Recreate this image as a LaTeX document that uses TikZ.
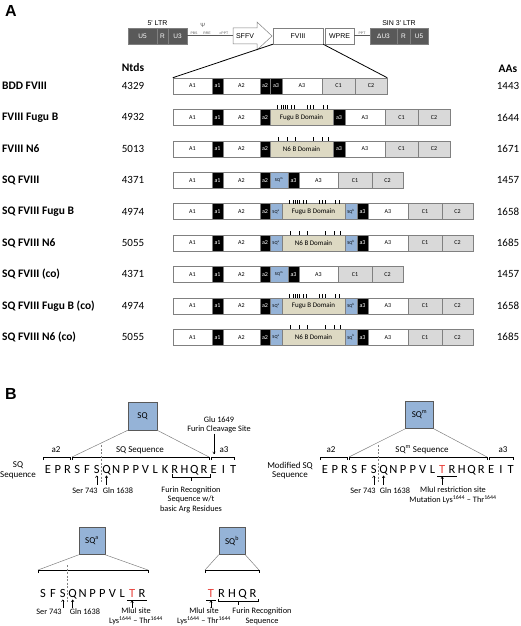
\documentclass[tikz,border=0pt]{standalone}
\usepackage{fontspec}
\setmainfont{Carlito}
\newfontfamily\arialfont{Liberation Sans}
\usetikzlibrary{arrows.meta}

\definecolor{ltrgray}{HTML}{595959}
\definecolor{sqblue}{HTML}{95B3D7}
\definecolor{fugutan}{HTML}{DDD9C3}
\definecolor{cgray}{HTML}{D9D9D9}
\definecolor{edgegray}{HTML}{808080}
\definecolor{mutred}{HTML}{E8403A}

% one construct row: id, y, name, Ntds, AAs, domains after a2
\newcommand{\fviiirow}[6]{%
  \node[rowlab] (lab#1) at (2,#2) {#3};
  \node[num] (nt#1) at (133,#2) {#4};
  \node[num] (aas#1) at (508,#2) {#5};
  \foreach \xa/\xb/\st/\txt [count=\segno] in {173/212/wd/A1,212/223/bk/a1,223/260/wd/A2,260/270/bk/a2,#6}
    \node[\st, minimum width={(\xb-\xa)*1pt}] (r#1-\segno) at ({(\xa+\xb)/2},#2) {\txt};
}
\newcommand{\fuguticks}[2]{\foreach \d in {7,11,13,15,17,21,24,37,40,43,53,57} \draw[tick] ({#1+\d},{#2-8}) -- ++(0,-4);}
\newcommand{\nsixticks}[2]{\foreach \d in {8,17,25,43,52,58} \draw[tick] ({#1+\d},{#2-8}) -- ++(0,-4);}
\newcommand{\topbrk}[3]{\draw[brk] (#1,#3+3) |- (#2,#3) -- (#2,#3+3);}

\begin{document}
\begin{tikzpicture}[x=1pt, y=-1pt,
  segbox/.style={draw=edgegray, line width=0.5pt, inner sep=0pt, minimum height=16pt, font=\fontsize{6}{6}\selectfont},
  wd/.style={segbox, fill=white},
  bk/.style={segbox, fill=black, text=white},
  gy/.style={segbox, fill=cgray},
  fb/.style={segbox, fill=fugutan, font=\fontsize{7}{7}\selectfont},
  sq/.style={segbox, fill=sqblue, font=\fontsize{4.5}{4.5}\selectfont},
  rowlab/.style={anchor=west, inner sep=0pt, font=\fontsize{11.5}{12}\selectfont\bfseries},
  num/.style={inner sep=0pt, font=\fontsize{11}{12}\selectfont},
  panel/.style={inner sep=0pt, font=\arialfont\bfseries\fontsize{16}{16}\selectfont},
  vbox/.style={draw=edgegray, line width=0.5pt, minimum height=16pt, inner sep=0pt, font=\arialfont\fontsize{7}{7}\selectfont},
  ltr/.style={vbox, fill=ltrgray, text=white, font=\arialfont\fontsize{6.5}{6.5}\selectfont},
  vtext/.style={inner sep=0pt, font=\arialfont\fontsize{7}{7}\selectfont},
  vtag/.style={inner sep=0pt, font=\arialfont\fontsize{3.5}{3.5}\selectfont, text=gray!70!black},
  vline/.style={ltrgray, line width=1pt},
  tick/.style={line width=0.4pt},
  resid/.style={anchor=base, inner sep=0pt, font=\fontsize{12.5}{12.5}\selectfont},
  lbl/.style={inner sep=0pt, align=center, font=\fontsize{8.3}{9.5}\selectfont},
  side/.style={inner sep=0pt, align=center, font=\fontsize{9}{9.5}\selectfont},
  hdr/.style={inner sep=0pt, font=\fontsize{9}{9}\selectfont},
  sqsq/.style={draw=gray!70!black, fill=sqblue, line width=0.6pt, inner sep=0pt, font=\fontsize{9}{9}\selectfont},
  brk/.style={line width=0.8pt},
  fan/.style={gray, line width=0.5pt},
  tipup/.style={{To[length=2.5pt,width=3pt]}-, line width=0.5pt},
  tipdown/.style={-{To[length=2.5pt,width=3pt]}, line width=0.5pt},
  cutline/.style={gray, dash pattern=on 2pt off 1.5pt, line width=0.6pt}
]
\useasboundingbox (0,0) rectangle (520,626);

% ---- A: vector and constructs
\node[panel] (pA) at (11,11) {A};
\node[ltr, minimum width=29pt] (u5a) at (142.5,36) {U5};
\node[ltr, minimum width=11pt] (ra) at (162.5,36) {R};
\node[ltr, minimum width=19pt] (u3a) at (177.5,36) {U3};
\node[vtext] (ltr5) at (157.5,23.5) {5' LTR};
\node[vtag, font=\arialfont\fontsize{6}{6}\selectfont] (psi) at (203,25) {Ψ};
\node[vtag] (pbs) at (194,33) {PBS};
\node[vtag] (rre) at (207,33) {RRE};
\node[vtag] (cppt) at (224,33) {cPPT};
\draw[draw=edgegray, fill=white, line width=0.5pt] (233,28) -- (257,28) -- (257,22) -- (272,36) -- (257,50) -- (257,44) -- (233,44) -- cycle;
\coordinate (sffvL) at (233,36);
\node[vtext] (sffv) at (245,36) {SFFV};
\node[vbox, fill=white, minimum width=50pt] (fviii) at (298,36) {FVIII};
\node[vbox, fill=white, minimum width=29pt] (wpre) at (339.5,36) {WPRE};
\node[vtag] (ppt) at (362,33) {PPT};
\node[ltr, minimum width=27pt] (du3) at (383.5,36) {ΔU3};
\node[ltr, minimum width=13pt] (rb) at (403.5,36) {R};
\node[ltr, minimum width=18pt] (u5b) at (419,36) {U5};
\node[vtext] (ltr3) at (399,23.5) {SIN 3' LTR};
\draw[vline] (u3a.east) -- (sffvL);
\draw[vline] (wpre.east) -- (du3.west);

\node[rowlab, anchor=center] (ntds) at (133,68) {Ntds};
\node[rowlab, anchor=center] (aahd) at (508,69) {AAs};

\fviiirow{1}{86}{BDD FVIII}{4329}{1443}{270/282/bk/a3,282/322/wd/A3,322/355/gy/C1,355/387/gy/C2}
\fviiirow{2}{117.4}{FVIII Fugu B}{4932}{1644}{270/333/fb/Fugu B Domain,333/345/bk/a3,345/385/wd/A3,385/418/gy/C1,418/450/gy/C2}
\fviiirow{3}{148.8}{FVIII N6}{5013}{1671}{270/333/fb/N6 B Domain,333/345/bk/a3,345/385/wd/A3,385/418/gy/C1,418/450/gy/C2}
\fviiirow{4}{180.2}{SQ FVIII}{4371}{1457}{270/288/sq/SQ\textsuperscript{m},288/299/bk/a3,299/338/wd/A3,338/372/gy/C1,372/403/gy/C2}
\fviiirow{5}{211.6}{SQ FVIII Fugu B}{4974}{1658}{270/282/sq/SQ\textsuperscript{a},282/345/fb/Fugu B Domain,345/357/sq/SQ\textsuperscript{b},357/368/bk/a3,368/408/wd/A3,408/442/gy/C1,442/473/gy/C2}
\fviiirow{6}{243}{SQ FVIII N6}{5055}{1685}{270/282/sq/SQ\textsuperscript{a},282/345/fb/N6 B Domain,345/357/sq/SQ\textsuperscript{b},357/368/bk/a3,368/408/wd/A3,408/442/gy/C1,442/473/gy/C2}
\fviiirow{7}{274.4}{SQ FVIII (co)}{4371}{1457}{270/288/sq/SQ\textsuperscript{m},288/299/bk/a3,299/338/wd/A3,338/372/gy/C1,372/403/gy/C2}
\fviiirow{8}{305.8}{SQ FVIII Fugu B (co)}{4974}{1658}{270/282/sq/SQ\textsuperscript{a},282/345/fb/Fugu B Domain,345/357/sq/SQ\textsuperscript{b},357/368/bk/a3,368/408/wd/A3,408/442/gy/C1,442/473/gy/C2}
\fviiirow{9}{337.2}{SQ FVIII N6 (co)}{5055}{1685}{270/282/sq/SQ\textsuperscript{a},282/345/fb/N6 B Domain,345/357/sq/SQ\textsuperscript{b},357/368/bk/a3,368/408/wd/A3,408/442/gy/C1,442/473/gy/C2}
\fuguticks{270}{117.4}
\fuguticks{282}{211.6}
\fuguticks{282}{305.8}
\nsixticks{270}{148.8}
\nsixticks{282}{243}
\nsixticks{282}{337.2}
\draw[line width=0.8pt] (fviii.south west) -- (r1-1.north west);
\draw[line width=0.8pt] (fviii.south east) -- (r1-8.north east);

% ---- B: SQ linker
\node[panel] (pB) at (11,394) {B};
\node[sqsq, minimum width=29pt, minimum height=28pt] (sqbox) at (142.5,416) {SQ};
\coordinate (sqL) at (72,457);
\coordinate (sqR) at (209,457);
\draw[fan] (sqbox.south west) -- (sqL);
\draw[fan] (sqbox.south east) -- (sqR);
\node[lbl] (glu) at (219,425) {Glu 1649\\Furin Cleavage Site};
\coordinate (cleave) at (214,454);
\draw[tipdown] (glu.south -| cleave) -- (cleave);
\node[hdr] (a2t) at (56,450) {a2};
\node[hdr] (sqt) at (140,450) {SQ Sequence};
\node[hdr] (a3t) at (224,450) {a3};
\topbrk{43}{70}{457}
\topbrk{72}{209}{457}
\topbrk{211}{234}{457}
\node[side] (sqside) at (18,470.5) {SQ\\Sequence};
\foreach \c [count=\n] in {E,P,R,S,F,S,Q,N,P,P,V,L,K,R,H,Q,R,E,I,T}
  \node[resid] (s\n) at ({48+(\n-1)*9.75},473) {\c};
\draw[cutline] (101.6,445) -- (101.6,482);
\draw[tipup] ([yshift=-2.5pt]s6.base) -- ++(0,9);
\draw[tipup] ([yshift=-2.5pt]s7.base) -- ++(0,9);
\node[lbl] (ser1) at (85,491) {Ser 743};
\node[lbl] (gln1) at (118,491) {Gln 1638};
\draw[brk] (172,474) |- (210,477) -- (210,474);
\draw[brk] (191,477) -- (191,481);
\node[lbl] (furin1) at (191,499.5) {Furin Recognition\\Sequence w/t\\basic Arg Residues};

% modified SQ
\node[sqsq, minimum width=28pt, minimum height=27pt] (sqmbox) at (419.5,415) {SQ\textsuperscript{m}};
\coordinate (smL) at (349,457);
\coordinate (smR) at (487,457);
\draw[fan] (sqmbox.south west) -- (smL);
\draw[fan] (sqmbox.south east) -- (smR);
\node[hdr] (a2m) at (331,450) {a2};
\node[hdr] (sqmt) at (422,450) {SQ\textsuperscript{m} Sequence};
\node[hdr] (a3m) at (503,450) {a3};
\topbrk{320}{347}{457}
\topbrk{349}{487}{457}
\topbrk{489}{513}{457}
\node[side] (mside) at (290,470.5) {Modified SQ\\Sequence};
\foreach \c [count=\n] in {E,P,R,S,F,S,Q,N,P,P,V,L,\textcolor{mutred}{T},R,H,Q,R,E,I,T}
  \node[resid] (m\n) at ({325+(\n-1)*9.77},473) {\c};
\draw[cutline] (378.7,445) -- (378.7,482);
\draw[tipup] ([yshift=-2.5pt]m6.base) -- ++(0,9);
\draw[tipup] ([yshift=-2.5pt]m7.base) -- ++(0,9);
\draw[brk] (437,476) -- (457,476);
\draw[tipup] ([yshift=-3.5pt]m13.base) -- ++(0,8);
\node[lbl] (ser2) at (363,491) {Ser 743};
\node[lbl] (gln2) at (395,491) {Gln 1638};
\node[lbl] (mlu1) at (453,495.5) {MluI restriction site\\Mutation Lys\textsuperscript{1644} – Thr\textsuperscript{1644}};

% SQa
\node[sqsq, minimum width=26pt, minimum height=27pt] (sqabox) at (92,541) {SQ\textsuperscript{a}};
\coordinate (saL) at (38,570);
\coordinate (saR) at (148,570);
\draw[fan] (sqabox.south west) -- (saL);
\draw[fan] (sqabox.south east) -- (saR);
\topbrk{38}{148}{570}
\foreach \c [count=\n] in {S,F,S,Q,N,P,P,V,L,\textcolor{mutred}{T},R}
  \node[resid] (a\n) at ({43+(\n-1)*9.9},597) {\c};
\draw[cutline] (67.7,565) -- (67.7,602);
\draw[tipup] ([yshift=-2.5pt]a3.base) -- ++(0,8);
\draw[tipup] ([yshift=-2.5pt]a4.base) -- ++(0,8);
\draw[brk] (127,600) -- (147,600);
\draw[tipup] ([yshift=-3.5pt]a10.base) -- ++(0,7);
\node[lbl] (ser3) at (49,611.5) {Ser 743};
\node[lbl] (gln3) at (85,611.5) {Gln 1638};
\node[lbl] (mlu2) at (136,616.5) {MluI site\\Lys\textsuperscript{1644} – Thr\textsuperscript{1644}};

% SQb
\node[sqsq, minimum width=26pt, minimum height=27pt] (sqbbox) at (232,541) {SQ\textsuperscript{b}};
\coordinate (sbL) at (205,570);
\coordinate (sbR) at (259,570);
\draw[fan] (sqbbox.south west) -- (sbL);
\draw[fan] (sqbbox.south east) -- (sbR);
\topbrk{205}{259}{570}
\foreach \c [count=\n] in {\textcolor{mutred}{T},R,H,Q,R}
  \node[resid] (b\n) at ({211+(\n-1)*10.5},597) {\c};
\draw[brk] (206,600) -- (216,600);
\draw[tipup] ([yshift=-3.5pt]b1.base) -- ++(0,7);
\draw[brk] (218,598.5) |- (258,601) -- (258,598.5);
\draw[brk] (238,601) -- (238,605);
\node[lbl] (mlu3) at (204,616.5) {MluI site\\Lys\textsuperscript{1644} – Thr\textsuperscript{1644}};
\node[lbl] (furin2) at (262,616.5) {Furin Recognition\\Sequence};
\end{tikzpicture}
\end{document}
